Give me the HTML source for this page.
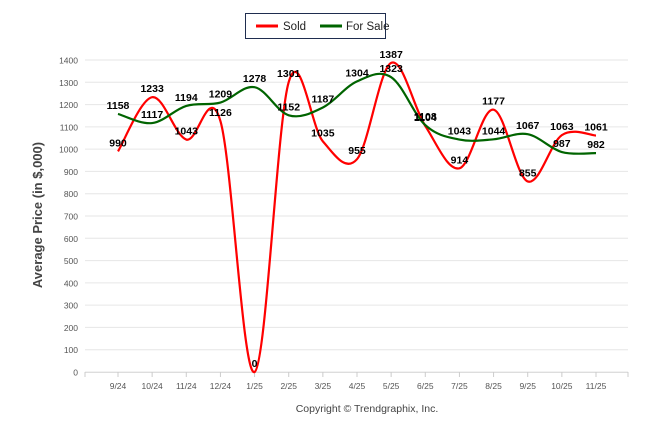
<!DOCTYPE html>
<html><head><meta charset="utf-8"><style>
body{margin:0;background:#fff;font-family:"Liberation Sans",sans-serif}
svg text{font-family:"Liberation Sans",sans-serif}
</style></head><body>
<svg width="646" height="434">
<g id="grid"></g><g id="series"></g><g id="labels"></g>
<g>
<rect x="245.5" y="13.5" width="140" height="25" fill="#fff" stroke="#1f2d4f" stroke-width="1"/>
<line x1="256" y1="26" x2="278" y2="26" stroke="#f00" stroke-width="3"/>
<text x="283" y="30" font-size="11.5" fill="#222">Sold</text>
<line x1="320" y1="26" x2="342" y2="26" stroke="#006400" stroke-width="3"/>
<text x="346" y="30" font-size="11.5" fill="#222">For Sale</text>
</g>
<text transform="translate(42,215) rotate(-90)" text-anchor="middle" font-size="13" font-weight="bold" fill="#444">Average Price (in $,000)</text>
<text x="367" y="412" text-anchor="middle" font-size="10.5" fill="#444">Copyright © Trendgraphix, Inc.</text>
</svg>
<script>
const categories=["9/24","10/24","11/24","12/24","1/25","2/25","3/25","4/25","5/25","6/25","7/25","8/25","9/25","10/25","11/25"];
const sold=[990,1233,1043,1126,0,1301,1035,955,1387,1104,914,1177,855,1063,1061];
const forSale=[1158,1117,1194,1209,1278,1152,1187,1304,1323,1108,1043,1044,1067,987,982];
const yTicks=[0,100,200,300,400,500,600,700,800,900,1000,1100,1200,1300,1400];
const NS="http://www.w3.org/2000/svg";
const L=85,R=628,x0=118,dx=(596-118)/14;
const X=i=>x0+i*dx, Y=v=>372-v*(312/1400);
function mk(t,a,p){const e=document.createElementNS(NS,t);for(const k in a)e.setAttribute(k,a[k]);p.appendChild(e);return e;}
const g=document.getElementById('grid');
yTicks.forEach(v=>{
 const l=mk('line',{x1:L,x2:R,y1:Y(v),y2:Y(v),stroke:'#e6e6e6','stroke-width':1},g);
 
 
 const t=mk('text',{x:78,y:Y(v)+3.5,'text-anchor':'end','font-size':8.5,fill:'#555'},g);t.textContent=v;
 
 
});
mk('line',{x1:L,x2:R,y1:372.5,y2:372.5,stroke:'#ddd'},g);
mk('line',{x1:L,x2:L,y1:372,y2:377,stroke:'#ccc'},g);
mk('line',{x1:R,x2:R,y1:372,y2:377,stroke:'#ccc'},g);
categories.forEach((c,i)=>{
 mk('line',{x1:X(i),x2:X(i),y1:372,y2:377,stroke:'#ccc'},g);
 const t=mk('text',{x:X(i),y:389,'text-anchor':'middle','font-size':8.5,fill:'#555'},g);t.textContent=c;
 
 
});
function path(vals){
 const p=vals.map((v,i)=>[X(i),Y(v)]);let d=`M${p[0][0]},${p[0][1]}`;
 for(let i=0;i<p.length-1;i++){
  const a=p[i-1]||p[i],b=p[i],c=p[i+1],e=p[i+2]||c,k=0.17;
  d+=` C${b[0]+(c[0]-a[0])*k},${b[1]+(c[1]-a[1])*k} ${c[0]-(e[0]-b[0])*k},${c[1]-(e[1]-b[1])*k} ${c[0]},${c[1]}`;
 }return d;}
const s=document.getElementById('series'),lb=document.getElementById('labels');
const sl=mk('path',{d:path(sold),fill:'none',stroke:'#f00','stroke-width':2.2},s);


const fl=mk('path',{d:path(forSale),fill:'none',stroke:'#006400','stroke-width':2.2},s);


[sold,forSale].forEach((arr,si)=>arr.forEach((v,i)=>{
 const t=mk('text',{x:X(i),y:Y(v)-5,'text-anchor':'middle','font-size':10.5,'font-weight':'bold',fill:'#000'},lb);t.textContent=v;
 
 
}));
</script>
</body></html>
